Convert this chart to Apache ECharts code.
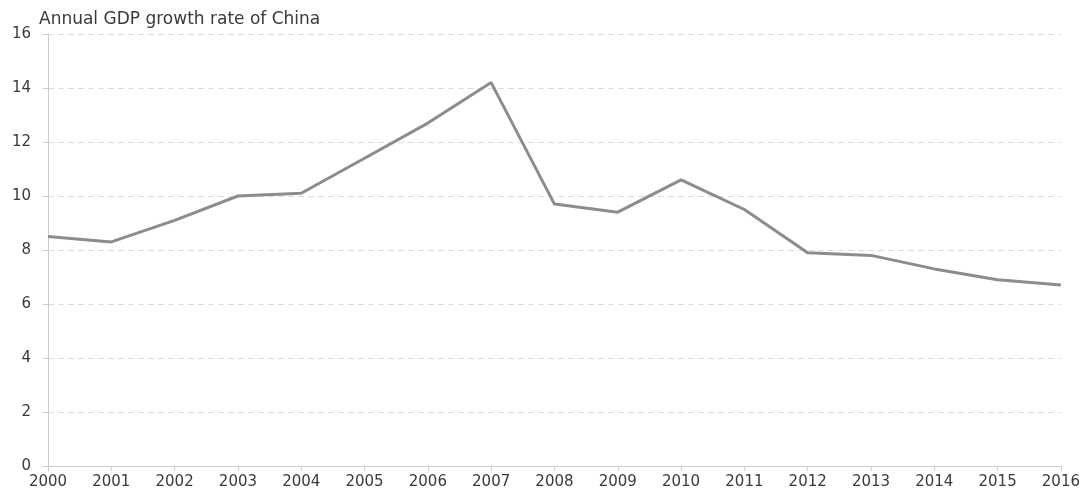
<!DOCTYPE html>
<html><head><meta charset="utf-8">
<script src="https://cdn.jsdelivr.net/npm/echarts@6/dist/echarts.min.js"></script>
<style>html,body{margin:0;padding:0;background:#fff}#c{width:1083px;height:490px}</style>
</head><body><div id="c"></div>
<script>
const years = ['2000','2001','2002','2003','2004','2005','2006','2007','2008','2009','2010','2011','2012','2013','2014','2015','2016'];
const gdpGrowth = [8.5, 8.3, 9.1, 10.0, 10.1, 11.4, 12.7, 14.2, 9.7, 9.4, 10.6, 9.5, 7.9, 7.8, 7.3, 6.9, 6.7];
const FONT = 'DejaVu Sans, Arial, sans-serif';
const chart = echarts.init(document.getElementById('c'));
chart.setOption({
  animation: false,
  title: {text: 'Annual GDP growth rate of China', left: 34, top: 6,
    textStyle: {fontFamily: FONT, fontSize: 17, fontWeight: 'normal', color: '#3a3a3a'}},
  grid: {left: 48, right: 21, top: 34, bottom: 24},
  xAxis: {type: 'category', data: years, boundaryGap: false,
    axisLine: {lineStyle: {color: '#ccc'}}, axisTick: {alignWithLabel: true, length: 5, lineStyle: {color: '#ccc'}},
    axisLabel: {color: '#3a3a3a', fontSize: 15, fontFamily: FONT, margin: 9, interval: 0},
    splitLine: {show: false}},
  yAxis: {type: 'value', min: 0, max: 16, interval: 2,
    axisLine: {show: true, lineStyle: {color: '#ccc'}}, axisTick: {show: true, length: 5, lineStyle: {color: '#ccc'}},
    axisLabel: {color: '#3a3a3a', fontSize: 15, fontFamily: FONT, margin: 17},
    splitLine: {lineStyle: {color: '#dcdcdc', type: [6, 4]}}},
  series: [{type: 'line', data: gdpGrowth, symbol: 'none', lineStyle: {color: '#8c8c8c', width: 3}}]
});
</script></body></html>
